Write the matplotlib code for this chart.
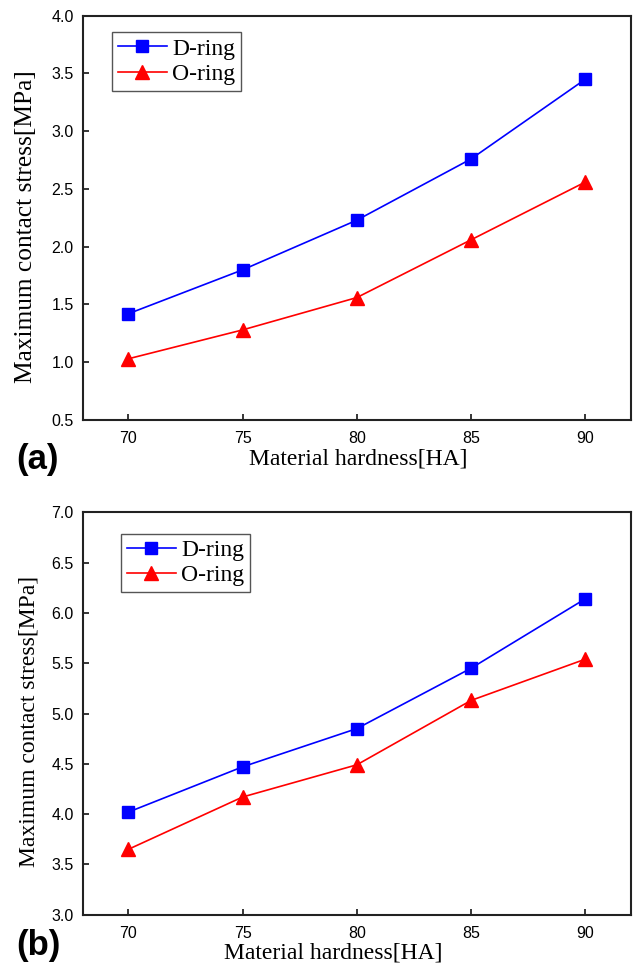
import matplotlib
matplotlib.use("Agg")
import matplotlib.pyplot as plt

# data
hardness = [70, 75, 80, 85, 90]

d_ring_a = [1.42, 1.80, 2.23, 2.76, 3.45]
o_ring_a = [1.03, 1.28, 1.56, 2.06, 2.56]

d_ring_b = [4.02, 4.47, 4.85, 5.45, 6.14]
o_ring_b = [3.65, 4.17, 4.49, 5.13, 5.54]

SERIF = "Liberation Serif"
SANS = "Liberation Sans"
W, H = 633, 966

# per panel: tag, series, y range, axes box (px: left, top, right, bottom),
# legend corner, ylabel (right edge, centre, size), xlabel (centre, top), tag centre
panels = [
    dict(tag="(a)", d=d_ring_a, o=o_ring_a, ylim=(0.5, 4.0),
         box=(82.7, 15.7, 631, 420), leg=(111.7, 32.3),
         ylab=(37, 226.5, 18.3), xlab=(358, 449), tag_y=459.5),
    dict(tag="(b)", d=d_ring_b, o=o_ring_b, ylim=(3.0, 7.0),
         box=(82.7, 512.3, 631, 914.7), leg=(120.7, 534),
         ylab=(40, 721, 17), xlab=(333, 942), tag_y=946),
]

fig = plt.figure(figsize=(6.33, 9.66), dpi=100)

for p in panels:
    l, t, r, b = p["box"]
    aw, ah = r - l, b - t
    ax = fig.add_axes([l / W, 1 - b / H, aw / W, ah / H])
    ax.plot(hardness, p["d"], color="#0000ff", marker="s", markersize=8.2, lw=1.2, label="D-ring")
    ax.plot(hardness, p["o"], color="#ff0000", marker="^", markersize=9.5, lw=1.2, label="O-ring")

    ax.set_xlim(68, 92)
    ax.set_ylim(*p["ylim"])
    ax.set_xticks(hardness)
    lo, hi = p["ylim"]
    ax.set_yticks([lo + 0.5 * i for i in range(int(round((hi - lo) / 0.5)) + 1)])
    ax.yaxis.set_major_formatter(matplotlib.ticker.FormatStrFormatter("%.1f"))

    ax.tick_params(direction="in", length=4.5, width=1.1, labelsize=11.5)
    ax.tick_params(axis="x", pad=8)
    ax.tick_params(axis="y", pad=6.5)
    for lab in ax.get_xticklabels() + ax.get_yticklabels():
        lab.set_family(SANS)
    for sp in ax.spines.values():
        sp.set_linewidth(1.5)
        sp.set_color("#222222")

    xc, xt = p["xlab"]
    ax.set_xlabel("Material hardness[HA]", fontsize=17, family=SERIF)
    ax.xaxis.set_label_coords((xc - l) / aw, -(xt - b) / ah)
    yr, yc, ys = p["ylab"]
    ax.set_ylabel("Maximum contact stress[MPa]", fontsize=ys, family=SERIF)
    ax.yaxis.set_label_coords((yr - l) / aw, 1 - (yc - t) / ah)

    lx, ly = p["leg"]
    leg = ax.legend(loc="upper left", bbox_to_anchor=((lx - l) / aw, 1 - (ly - t) / ah),
                    prop={"family": SERIF, "size": 17},
                    fancybox=False, edgecolor="#555555", framealpha=1,
                    handlelength=2.1, handletextpad=0.2, borderpad=0.25, labelspacing=0.15,
                    borderaxespad=0)
    leg.get_frame().set_linewidth(1.0)

    fig.text(16 / W, 1 - p["tag_y"] / H, p["tag"], fontsize=25, fontweight="bold", family=SANS,
             ha="left", va="center")

fig.savefig("out.png", dpi=100)
